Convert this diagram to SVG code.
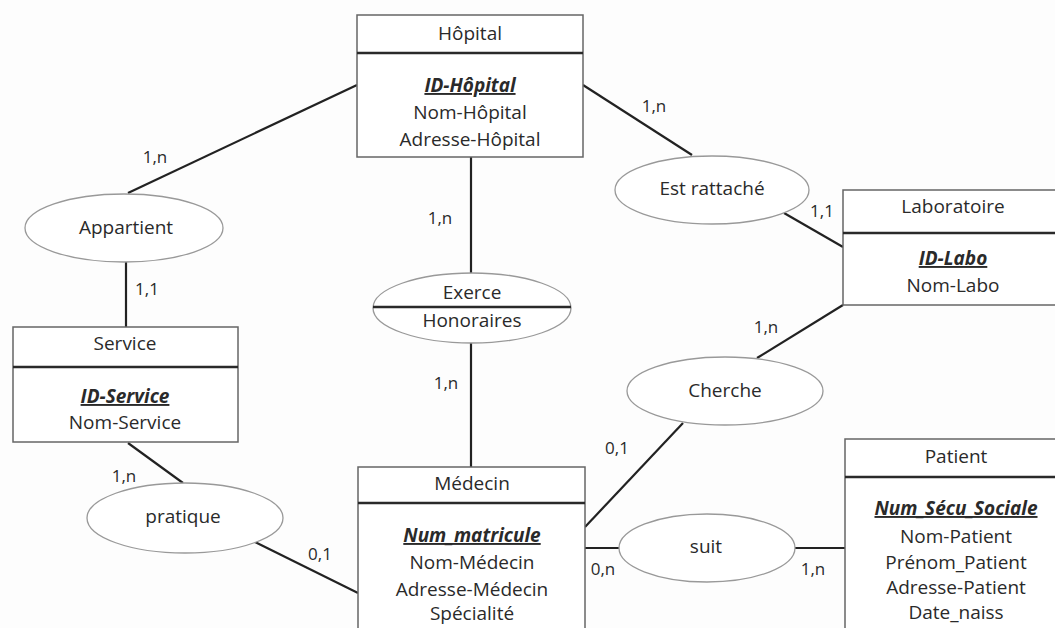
<svg xmlns="http://www.w3.org/2000/svg" width="1055" height="628" viewBox="0 0 1055 628">
<style>
text{font-family:"Open Sans","Liberation Sans",sans-serif;font-size:19px;fill:#2a2a2a;text-anchor:middle}
.card{font-size:17px}
.key{font-weight:bold;font-style:italic;text-decoration:underline}
.box{fill:#fff;stroke:#666;stroke-width:1.5}
.hdr{stroke:#2a2a2a;stroke-width:2.5}
.rel{fill:#fff;stroke:#999;stroke-width:1.3}
.conn line{stroke:#222;stroke-width:2.2}
</style>
<rect width="1055" height="628" fill="#fdfdfd"/>
<g class="conn" id="connectors">
<line x1="357" y1="85" x2="128" y2="193"/>
<line x1="126" y1="262" x2="126" y2="327"/>
<line x1="471" y1="157" x2="471" y2="273"/>
<line x1="471" y1="343" x2="471" y2="467"/>
<line x1="583" y1="85" x2="692" y2="155"/>
<line x1="784" y1="213" x2="843" y2="247"/>
<line x1="843" y1="305" x2="757" y2="358"/>
<line x1="683" y1="423" x2="585" y2="527"/>
<line x1="585" y1="548" x2="620" y2="548"/>
<line x1="795" y1="548" x2="845" y2="548"/>
<line x1="128" y1="443" x2="183" y2="483"/>
<line x1="255" y1="542" x2="358" y2="593"/>
<text class="card" x="155" y="163">1,n</text>
<text class="card" x="147" y="295">1,1</text>
<text class="card" x="654" y="112">1,n</text>
<text class="card" x="822" y="217">1,1</text>
<text class="card" x="440" y="224">1,n</text>
<text class="card" x="446" y="389">1,n</text>
<text class="card" x="766" y="333">1,n</text>
<text class="card" x="617" y="454">0,1</text>
<text class="card" x="603" y="575">0,n</text>
<text class="card" x="813" y="575">1,n</text>
<text class="card" x="124" y="482">1,n</text>
<text class="card" x="320" y="560">0,1</text>
</g>
<g id="hopital">
<rect class="box" x="357" y="15" width="226" height="142"/>
<line class="hdr" x1="357" y1="53" x2="583" y2="53"/>
<text x="470" y="40">Hôpital</text>
<text class="key" x="470" y="92">ID-Hôpital</text>
<text x="470" y="119">Nom-Hôpital</text>
<text x="470" y="146">Adresse-Hôpital</text>
</g>
<g id="service">
<rect class="box" x="13" y="327" width="225" height="115"/>
<line class="hdr" x1="13" y1="367" x2="238" y2="367"/>
<text x="125" y="350">Service</text>
<text class="key" x="125" y="403">ID-Service</text>
<text x="125" y="429">Nom-Service</text>
</g>
<g id="laboratoire">
<rect class="box" x="843" y="190" width="230" height="115"/>
<line class="hdr" x1="843" y1="233" x2="1073" y2="233"/>
<text x="953" y="213">Laboratoire</text>
<text class="key" x="953" y="265">ID-Labo</text>
<text x="953" y="292">Nom-Labo</text>
</g>
<g id="medecin">
<rect class="box" x="358" y="467" width="227" height="180"/>
<line class="hdr" x1="358" y1="503" x2="585" y2="503"/>
<text x="472" y="490">Médecin</text>
<text class="key" x="472" y="542">Num_matricule</text>
<text x="472" y="569">Nom-Médecin</text>
<text x="472" y="596">Adresse-Médecin</text>
<text x="472" y="620">Spécialité</text>
</g>
<g id="patient">
<rect class="box" x="845" y="439" width="230" height="210"/>
<line class="hdr" x1="845" y1="477" x2="1075" y2="477"/>
<text x="956" y="463">Patient</text>
<text class="key" x="956" y="515">Num_Sécu_Sociale</text>
<text x="956" y="543">Nom-Patient</text>
<text x="956" y="569">Prénom_Patient</text>
<text x="956" y="594">Adresse-Patient</text>
<text x="956" y="619">Date_naiss</text>
</g>
<g id="appartient">
<ellipse class="rel" cx="124" cy="228" rx="99" ry="34"/>
<text x="126" y="234">Appartient</text>
</g>
<g id="exerce">
<ellipse class="rel" cx="472" cy="308" rx="99" ry="35"/>
<line class="hdr" x1="373" y1="307" x2="571" y2="307"/>
<text x="472" y="299">Exerce</text>
<text x="472" y="327">Honoraires</text>
</g>
<g id="est-rattache">
<ellipse class="rel" cx="712" cy="190" rx="97" ry="34"/>
<text x="712" y="195">Est rattaché</text>
</g>
<g id="cherche">
<ellipse class="rel" cx="725" cy="391" rx="98" ry="34"/>
<text x="725" y="397">Cherche</text>
</g>
<g id="suit">
<ellipse class="rel" cx="707" cy="548" rx="88" ry="34"/>
<text x="706" y="553">suit</text>
</g>
<g id="pratique">
<ellipse class="rel" cx="185" cy="518" rx="98" ry="35"/>
<text x="183" y="523">pratique</text>
</g>
</svg>
